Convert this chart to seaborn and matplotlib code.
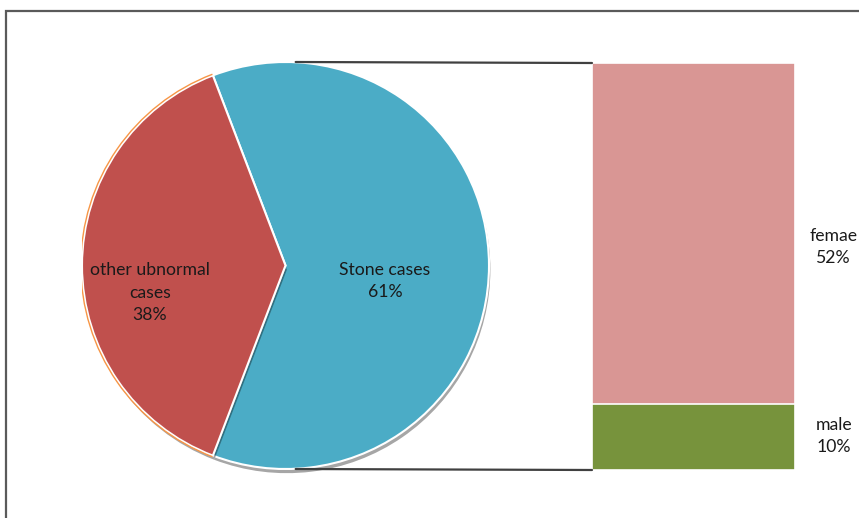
import matplotlib
matplotlib.use("Agg")
import matplotlib.pyplot as plt
import matplotlib.patheffects as pe
from matplotlib.patches import ConnectionPatch, Arc, Rectangle
import seaborn as sns
import pandas as pd

# Pie: overall split of cases
pie_labels = ["Stone cases", "other ubnormal\ncases"]
pie_values = [61, 38]
pie_colors = ["#4BACC6", "#C0504D"]

# Bar: breakdown of stone cases by sex (bottom to top)
bar_labels = ["male", "femae"]
bar_values = [10, 52]
bar_colors = ["#77933C", "#D99694"]

sns.set_theme(style="white")
plt.rcParams["font.family"] = ["Lato", "DejaVu Sans"]

W, H = 859, 518
fig = plt.figure(figsize=(W / 100, H / 100), dpi=100)
fig.patch.set_facecolor("white")

# chart frame
fig.patches.append(Rectangle((5.5 / W, -0.05), 1.2, (H - 10.5) / H + 0.05,
                             transform=fig.transFigure, fill=False,
                             edgecolor="#5a5a5a", linewidth=1.6))

FS = 12.7
LS = 1.5

# ---- pie ----
cx, cy, r = 285.5, 265.5, 203.5
pie_ax = fig.add_axes([(cx - r) / W, (H - cy - r) / H, 2 * r / W, 2 * r / H])
start = -pie_values[0] / sum(pie_values) * 360 / 2
wedges, _ = pie_ax.pie(pie_values, colors=pie_colors, startangle=start,
                       counterclock=True, radius=1,
                       wedgeprops=dict(edgecolor="white", linewidth=1.5))
for w in wedges:
    w.set_path_effects([pe.SimplePatchShadow(offset=(1.0, -3.0), shadow_rgbFace="black", alpha=0.35),
                        pe.Normal()])
# thin orange rim along the outer arc of the second slice
t1 = start + pie_values[0] / sum(pie_values) * 360
pie_ax.add_patch(Arc((0, 0), 2.012, 2.012, theta1=t1, theta2=start + 360,
                     color="#F79646", linewidth=1.0))
pie_ax.set_xlim(-1.0, 1.0)
pie_ax.set_ylim(-1.0, 1.0)
pie_ax.set_aspect("equal")
pie_ax.axis("off")

pct = [round(v) for v in pie_values]
pie_ax.text(0.489, -0.076, f"{pie_labels[0]}\n{pct[0]}%", ha="center", va="center",
            fontsize=FS, color="#1a1a1a", linespacing=LS)
pie_ax.text(-0.666, -0.133, f"{pie_labels[1]}\n{pct[1]}%", ha="center", va="center",
            fontsize=FS, color="#1a1a1a", linespacing=LS)

# ---- stacked bar ----
total = sum(bar_values)
bx0, bx1, by0, by1 = 592, 795, 63, 470
bar_ax = fig.add_axes([bx0 / W, (H - by1) / H, (bx1 - bx0) / W, (by1 - by0) / H])
tops = pd.Series(bar_values).cumsum().tolist()
# draw from the tallest cumulative segment down so each lower one overlays
for i in reversed(range(len(bar_values))):
    df = pd.DataFrame({"g": ["stone"], "v": [tops[i]]})
    sns.barplot(data=df, x="g", y="v", ax=bar_ax, color=bar_colors[i],
                saturation=1, width=1.0, edgecolor="white", linewidth=1.2)
for p in bar_ax.patches:
    p.set_path_effects([pe.SimplePatchShadow(offset=(1.5, -1.5), shadow_rgbFace="black", alpha=0.2),
                        pe.Normal()])
bar_ax.set_xlim(-0.5, 0.5)
bar_ax.set_ylim(0, total)
bar_ax.axis("off")

label_shift = [0.2, -2.0]
for i, (lab, v) in enumerate(zip(bar_labels, bar_values)):
    mid = tops[i] - v / 2 + label_shift[i]
    bar_ax.text(0.69, mid, f"{lab}\n{v}%",
                ha="center", va="center", fontsize=FS, color="#1a1a1a",
                linespacing=LS, clip_on=False)

# connectors from the pie's top and bottom to the bar
for yp, yb in [(1, total), (-1, 0)]:
    con = ConnectionPatch(xyA=(0.05, yp), coordsA=pie_ax.transData,
                          xyB=(-0.5, yb), coordsB=bar_ax.transData,
                          color="#404040", linewidth=1.6)
    fig.add_artist(con)

fig.savefig("out.png", dpi=100)
